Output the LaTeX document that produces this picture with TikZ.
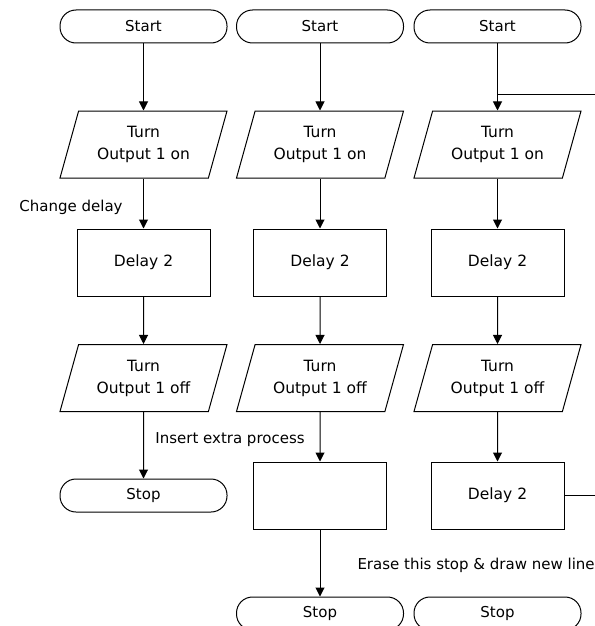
\documentclass[tikz,border=0pt]{standalone}
\usepackage{fontspec}
\setmainfont{DejaVu Sans}
\usetikzlibrary{shapes.geometric,arrows.meta,positioning}
\tikzset{
  terminal/.style={draw, rectangle, rounded corners=16pt, minimum width=167pt, minimum height=33pt, inner sep=0pt},
  inout/.style={draw, trapezium, trapezium left angle=63, trapezium right angle=117,
    trapezium stretches body, minimum width=167pt, minimum height=67pt, inner sep=0pt, align=center,
    font=\fontsize{15.5}{22}\selectfont},
  process/.style={draw, rectangle, minimum width=133pt, minimum height=67pt, inner sep=0pt,
    font=\fontsize{15.5}{22}\selectfont},
  note/.style={inner sep=0pt},
  flow/.style={-{Triangle[width=9pt,length=9pt]}},
}
\begin{document}
\begin{tikzpicture}[x=1pt, y=-1pt, line width=1pt, font=\fontsize{15}{21}\selectfont]
            \useasboundingbox (0,0) rectangle (594,626);
            \def\rowstart{26.5}
            \def\rowon{144.5}
            \def\rowdelay{262.5}
            \def\rowoff{378}
            \def\rowend{495.5}
            \def\rowlast{613.5}

            % the same four steps in all three columns
            \foreach \c/\x in {1/143.5, 2/320, 3/497.5} {
                \node[terminal] (start\c) at (\x,\rowstart) {Start};
                \node[inout] (on\c) at (\x,\rowon) {Turn\\Output 1 on};
                \node[process] (delay\c) at (\x,\rowdelay) {Delay 2};
                \node[inout] (off\c) at (\x,\rowoff) {Turn\\Output 1 off};
                \draw[flow] (start\c) -- (on\c);
                \draw[flow] (on\c) -- (delay\c);
                \draw[flow] (delay\c) -- (off\c);
            }

            % column 1
            \node[terminal] (stop1) at (143.5,\rowend) {Stop};
            \draw[flow] (off1) -- (stop1);
            \node[note] (change) at (71,207) {Change delay};

            % column 2: extra process
            \node[process] (extra2) at (320,\rowend) {};
            \node[terminal] (stop2) at (320,\rowlast) {Stop};
            \draw[flow] (off2) -- (extra2);
            \draw[flow] (extra2) -- (stop2);
            \node[note] (insert) at (230,440) {Insert extra process};

            % column 3: loop back
            \node[process] (delay3b) at (497.5,\rowend) {Delay 2};
            \node[terminal] (stop3) at (497.5,\rowlast) {Stop};
            \draw[flow] (off3) -- (delay3b);
            \coordinate (loopin) at (497.5,94);
            \coordinate (loopR) at (610,94);
            \coordinate (exitR) at (610,\rowend);
            \draw (loopR) -- (loopin);
            \draw (delay3b) -- (exitR);
            \node[note, anchor=west] (erase) at (357,565) {Erase this stop \& draw new line};
        \end{tikzpicture}
\end{document}
